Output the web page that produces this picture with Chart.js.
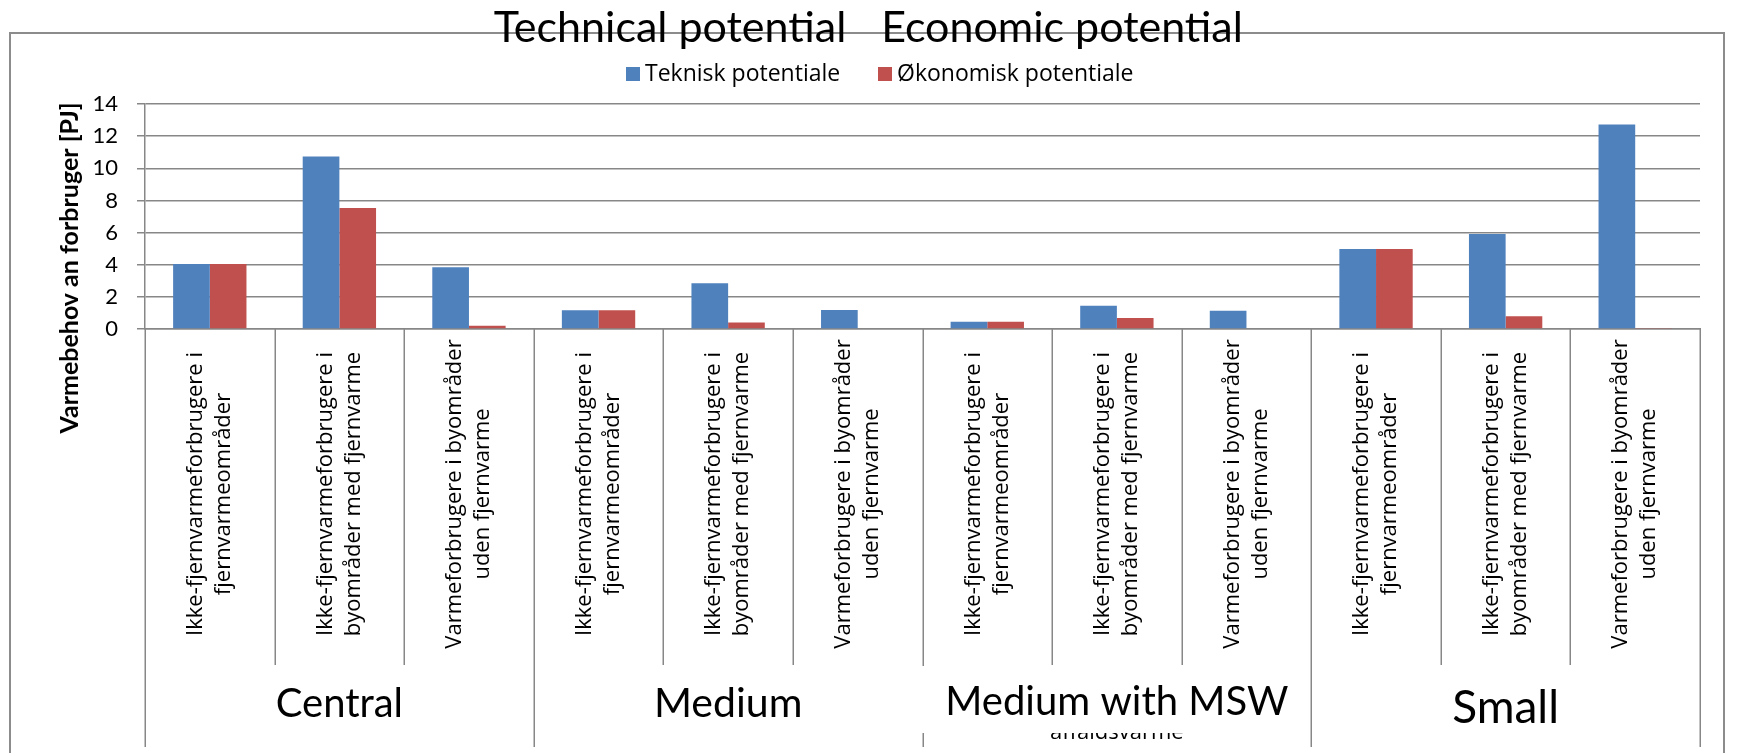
<!DOCTYPE html>
<html>
<head>
<meta charset="utf-8">
<script src="https://cdn.jsdelivr.net/npm/chart.js@4.4.1/dist/chart.umd.min.js"></script>
<style>
  html, body { margin: 0; padding: 0; background: #ffffff; overflow: hidden; }
  canvas { display: block; }
</style>
</head>
<body>
<canvas id="chart" width="1737" height="753"></canvas>
<script>
// Consumer categories, repeated once per plant group (two-line labels)
const categories = [
  ['Ikke-fjernvarmeforbrugere i', 'fjernvarmeområder'],
  ['Ikke-fjernvarmeforbrugere i', 'byområder med fjernvarme'],
  ['Varmeforbrugere i byområder', 'uden fjernvarme'],
  ['Ikke-fjernvarmeforbrugere i', 'fjernvarmeområder'],
  ['Ikke-fjernvarmeforbrugere i', 'byområder med fjernvarme'],
  ['Varmeforbrugere i byområder', 'uden fjernvarme'],
  ['Ikke-fjernvarmeforbrugere i', 'fjernvarmeområder'],
  ['Ikke-fjernvarmeforbrugere i', 'byområder med fjernvarme'],
  ['Varmeforbrugere i byområder', 'uden fjernvarme'],
  ['Ikke-fjernvarmeforbrugere i', 'fjernvarmeområder'],
  ['Ikke-fjernvarmeforbrugere i', 'byområder med fjernvarme'],
  ['Varmeforbrugere i byområder', 'uden fjernvarme']
];
const groups = ['Central', 'Medium', 'Medium with MSW', 'Small'];
const groupCaptionBelow = 'affaldsvarme';

// Heat demand [PJ]
const teknisk   = [4.05, 10.73, 3.85, 1.16, 2.85, 1.19, 0.45, 1.45, 1.13, 4.98, 5.91, 12.72];
const okonomisk = [4.05,  7.53, 0.21, 1.16, 0.41, 0.00, 0.45, 0.68, 0.04, 4.98, 0.80, 0.06];

const seriesNames = ['Teknisk potentiale', 'Økonomisk potentiale'];
const yTicks = [0, 2, 4, 6, 8, 10, 12, 14];
const titleParts = ['Technical potential', 'Economic potential'];
const yAxisTitle = 'Varmebehov an forbruger [PJ]';

const GRID = '#878787';

const decor = {
  id: 'decor',
  beforeDraw(chart) {
    const ctx = chart.ctx;
    ctx.save();
    ctx.fillStyle = '#ffffff';
    ctx.fillRect(0, 0, chart.width, chart.height);

    // outer frame
    ctx.strokeStyle = '#8c8c8c';
    ctx.lineWidth = 2;
    ctx.beginPath();
    ctx.moveTo(10, 770);
    ctx.lineTo(10, 33);
    ctx.lineTo(1724, 33);
    ctx.lineTo(1724, 770);
    ctx.stroke();

    // heading in two parts
    ctx.fillStyle = '#000000';
    ctx.font = '43px Lato';
    ctx.textBaseline = 'alphabetic';
    ctx.textAlign = 'center';
    ctx.fillText(titleParts[0], 670, 42);
    ctx.fillText(titleParts[1], 1062, 42);

    // legend
    const legendX = [626, 878];
    ctx.font = '23px "Open Sans"';
    ctx.textAlign = 'left';
    ctx.textBaseline = 'middle';
    chart.data.datasets.forEach((ds, i) => {
      ctx.fillStyle = ds.backgroundColor;
      ctx.fillRect(legendX[i], 67, 14, 14);
      ctx.fillStyle = '#000000';
      ctx.fillText(ds.label, legendX[i] + 19, 74);
    });
    ctx.restore();
  },
  afterDraw(chart) {
    const ctx = chart.ctx;
    const xs = chart.scales.x;
    const area = chart.chartArea;
    const step = xs.getPixelForValue(1) - xs.getPixelForValue(0);
    const edge = k => xs.getPixelForValue(0) - step / 2 + k * step;
    const labelBottom = 665;
    const groupBottom = 747;

    ctx.save();
    ctx.strokeStyle = GRID;
    ctx.lineWidth = 1.5;
    ctx.beginPath();
    for (let k = 0; k <= categories.length; k++) {
      const x = Math.round(edge(k)) + 0.25;
      ctx.moveTo(x, area.bottom);
      ctx.lineTo(x, k % 3 === 0 ? groupBottom : labelBottom);
    }
    ctx.stroke();

    // category labels, rotated, centred in the label band
    ctx.fillStyle = '#000000';
    ctx.font = '22px "Open Sans"';
    ctx.textAlign = 'center';
    ctx.textBaseline = 'middle';
    const midY = (area.bottom + labelBottom) / 2 - 3;
    const lineGap = 28;
    categories.forEach((lines, i) => {
      const cx = xs.getPixelForValue(i);
      lines.forEach((line, j) => {
        const off = (j - (lines.length - 1) / 2) * lineGap;
        ctx.save();
        ctx.translate(cx + off, midY);
        ctx.rotate(-Math.PI / 2);
        ctx.fillText(line, 0, 0);
        ctx.restore();
      });
    });

    // caption underneath the third group's label box
    const g3c = edge(6) + 1.5 * step;
    ctx.font = '22px "Open Sans"';
    ctx.textBaseline = 'alphabetic';
    ctx.fillText(groupCaptionBelow, g3c, 739);
    ctx.fillStyle = '#ffffff';
    ctx.fillRect(890, 666, 1309 - 890, 733 - 666);

    // group labels
    const groupStyle = [
      { size: 40, base: 717 },
      { size: 41, base: 717 },
      { size: 40, base: 715 },
      { size: 46, base: 723 }
    ];
    ctx.fillStyle = '#000000';
    groups.forEach((g, i) => {
      const cx = edge(i * 3) + 1.5 * step;
      ctx.font = groupStyle[i].size + 'px Lato';
      ctx.fillText(g, cx, groupStyle[i].base);
    });

    // value axis title
    ctx.font = 'bold 25px Lato';
    ctx.textBaseline = 'middle';
    ctx.save();
    ctx.translate(70, 268);
    ctx.rotate(-Math.PI / 2);
    ctx.fillText(yAxisTitle, 0, 0);
    ctx.restore();
    ctx.restore();
  }
};

new Chart(document.getElementById('chart'), {
  type: 'bar',
  data: {
    labels: categories,
    datasets: [
      { label: seriesNames[0], data: teknisk, backgroundColor: '#4F81BD',
        categoryPercentage: 0.566, barPercentage: 1.0 },
      { label: seriesNames[1], data: okonomisk, backgroundColor: '#C0504D',
        categoryPercentage: 0.566, barPercentage: 1.0 }
    ]
  },
  options: {
    responsive: false,
    animation: false,
    devicePixelRatio: 1,
    layout: { padding: { top: 104, right: 37, bottom: 0, left: 0 } },
    plugins: {
      legend: { display: false },
      title: { display: false },
      tooltip: { enabled: false }
    },
    scales: {
      x: {
        grid: { display: false },
        ticks: { display: false },
        border: { display: true, color: GRID, width: 1.5 },
        afterFit(s) { s.height = 424; }
      },
      y: {
        min: 0,
        max: 14,
        afterBuildTicks(s) { s.ticks = yTicks.map(v => ({ value: v })); },
        ticks: { color: '#000000', font: { family: 'Lato', size: 22 }, padding: 19 },
        grid: { color: GRID, lineWidth: 1.5, tickLength: 8 },
        border: { display: true, color: GRID, width: 1.5 },
        afterFit(s) { s.width = 145; }
      }
    }
  },
  plugins: [decor]
});
</script>
</body>
</html>
